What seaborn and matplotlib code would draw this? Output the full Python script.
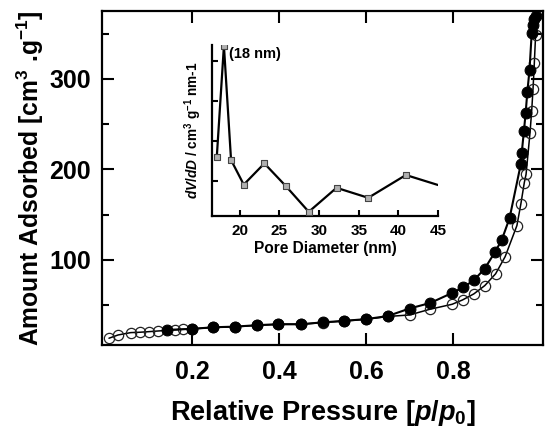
import matplotlib
matplotlib.use("Agg")
import matplotlib.pyplot as plt
import seaborn as sns

# ---------------- data ----------------
# adsorption branch (filled circles)
ads_x = [0.142, 0.199, 0.249, 0.299, 0.349, 0.398, 0.450, 0.500, 0.550, 0.600,
         0.650, 0.700, 0.748, 0.798, 0.823, 0.848, 0.873, 0.897, 0.912, 0.930,
         0.956, 0.958, 0.963, 0.967, 0.971, 0.976, 0.981, 0.984, 0.987, 0.990]
ads_y = [22.7, 23.8, 25.6, 26.3, 27.9, 29.0, 29.0, 31.0, 32.7, 34.6,
         38.0, 46.3, 52.5, 63.5, 69.6, 77.5, 90.4, 109.0, 122.0, 146.0,
         206.0, 218.0, 242.0, 262.0, 286.0, 310.0, 351.0, 360.0, 366.0, 370.0]
# desorption branch (open circles)
des_x = [0.009, 0.030, 0.059, 0.080, 0.102, 0.122, 0.161, 0.180, 0.199, 0.249,
         0.299, 0.349, 0.398, 0.450, 0.500, 0.550, 0.600, 0.650, 0.700, 0.747,
         0.798, 0.822, 0.848, 0.873, 0.898, 0.920, 0.947, 0.956, 0.964, 0.968,
         0.977, 0.981, 0.984, 0.987, 0.990]
des_y = [13.5, 17.1, 19.7, 20.1, 20.8, 21.5, 22.7, 23.4, 23.8, 25.4,
         26.1, 27.7, 28.8, 28.8, 30.8, 32.5, 34.4, 37.5, 39.2, 45.5,
         51.0, 55.8, 62.5, 71.6, 84.7, 103.7, 138.0, 161.7, 185.5, 194.5,
         240.0, 265.0, 288.6, 317.3, 349.0]
main_xticks = [0.2, 0.4, 0.6, 0.8]
main_yticks = [100, 200, 300]
main_yminor = [50, 150, 250, 350]

# pore size distribution (inset)
pore_d = [17.1, 18.0, 18.9, 20.5, 23.1, 25.8, 28.7, 32.2, 36.2, 40.95, 45.0]
pore_v = [1.60, 4.38, 1.525, 0.91, 1.44, 0.875, 0.23, 0.83, 0.58, 1.15, 0.90]
inset_xticks = [20, 25, 30, 35, 40, 45]
inset_yticks = [1, 2, 3, 4]

# ---------------- style ----------------
sns.set_style("ticks")
plt.rcParams['font.family'] = ['Liberation Sans', 'DejaVu Sans']
plt.rcParams['font.weight'] = 'bold'
plt.rcParams['mathtext.fontset'] = 'custom'
plt.rcParams['mathtext.rm'] = 'Liberation Sans:bold'
plt.rcParams['mathtext.it'] = 'Liberation Sans:bold:italic'
plt.rcParams['mathtext.bf'] = 'Liberation Sans:bold'
plt.rcParams['mathtext.default'] = 'rm'
for k in ['text.color', 'axes.labelcolor', 'xtick.color', 'ytick.color', 'axes.edgecolor']:
    plt.rcParams[k] = 'black'

fig = plt.figure(figsize=(5.5, 4.37), dpi=100)
ax = fig.add_axes([0.1855, 0.2105, 0.8018, 0.7643])

sns.lineplot(x=des_x, y=des_y, ax=ax, sort=False, estimator=None,
             color='black', lw=1.1, marker='o', markersize=7.4,
             markerfacecolor='none', markeredgecolor='#222222',
             markeredgewidth=0.9, zorder=2)
sns.lineplot(x=ads_x, y=ads_y, ax=ax, sort=False, estimator=None,
             color='black', lw=1.5, marker='o', markersize=7.8,
             markerfacecolor='black', markeredgecolor='black', zorder=3)

ax.set_xlim(-0.007, 1.007)
ax.set_ylim(6, 375)
ax.set_xticks(main_xticks)
ax.set_xticklabels([f"{v:.1f}" for v in main_xticks])
ax.set_yticks(main_yticks)
ax.set_yticks(main_yminor, minor=True)
ax.tick_params(axis='both', which='major', direction='in', length=8.5, width=1.5,
               top=True, right=True, labelsize=18, colors='black')
ax.tick_params(axis='y', which='minor', direction='in', length=5, width=1.5,
               left=True, right=True, colors='black')
ax.tick_params(axis='x', which='major', pad=11)
ax.tick_params(axis='y', which='major', pad=8)
for s in ax.spines.values():
    s.set_linewidth(1.6)
    s.set_color('black')

ax.set_xlabel(r"Relative Pressure [$\mathit{p}$/$\mathit{p}_0$]", fontsize=19.5,
              fontweight='bold', labelpad=10)
ax.set_ylabel(r"Amount Adsorbed [cm$^{3}$ .g$^{-1}$]", fontsize=17.8,
              fontweight='bold', labelpad=2)

# ---------------- inset ----------------
ins = fig.add_axes([0.3855, 0.5057, 0.4109, 0.3913])
ins.patch.set_alpha(0)
sns.lineplot(x=pore_d, y=pore_v, ax=ins, sort=False, estimator=None,
             color='black', lw=1.6)
sns.scatterplot(x=pore_d[:-1], y=pore_v[:-1], ax=ins, marker='s', s=18,
                color='#b0b0b0', edgecolor='#444444', linewidth=0.8, zorder=3)
ins.set_xlim(16.5, 45)
ins.set_ylim(0.125, 4.4)
ins.set_xticks(inset_xticks)
ins.set_yticks(inset_yticks)
ins.set_yticklabels([])
ins.tick_params(axis='both', direction='in', length=4.5, width=1.5, labelsize=11,
                colors='black')
ins.tick_params(axis='x', pad=6)
sns.despine(ax=ins)
for s in ['left', 'bottom']:
    ins.spines[s].set_linewidth(1.6)
    ins.spines[s].set_color('black')
ins.set_xlabel("Pore Diameter (nm)", fontsize=11.2, fontweight='bold', labelpad=2)
ins.set_ylabel(r"$\mathit{dV/dD}$ / cm$^{3}$ g$^{-1}$ nm-1", fontsize=9.8,
               fontweight='bold', labelpad=2)
ins.annotate("(18 nm)", xy=(18.0, 4.38), xytext=(4, -6), textcoords='offset points',
             fontsize=10.5, fontweight='bold', ha='left', va='center')

fig.savefig("out.png", dpi=100)
